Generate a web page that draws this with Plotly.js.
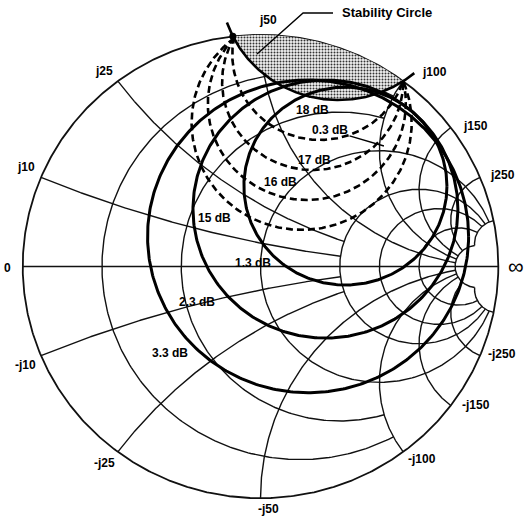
<!DOCTYPE html>
<html><head><meta charset="utf-8">
<script src="https://cdn.plot.ly/plotly-3.0.1.min.js"></script>
<style>html,body{margin:0;padding:0;background:#fff;}#chart{width:524px;height:524px;}</style>
</head><body><div id="chart"></div>
<script>
// ---------------- data ----------------
const resistanceValues = [0.2, 0.5, 1, 2, 3, 5, 10];
const reactanceValues  = [0.2, 0.5, 1, 2, 3, 5, 10];
const reactanceLabels  = ['j10', 'j25', 'j50', 'j100', 'j150', 'j250'];
const negReactanceLabels = ['-j10', '-j25', '-j50', '-j100', '-j150', '-j250'];
const axisEndLabels = ['0', '\u221E'];

const noiseNames   = ['1.3 dB', '2.3 dB', '3.3 dB'];
const noiseCenterX = [0.357, 0.273, 0.2];
const noiseCenterY = [0.347, 0.248, 0.13];
const noiseRadius  = [0.427, 0.557, 0.675];

const minNoiseName = '0.3 dB';
const minNoiseX = [0.519];
const minNoiseY = [0.52];

const gainNames   = ['15 dB', '16 dB', '17 dB', '18 dB'];
const gainCenterX = [0.173, 0.1949, 0.2193, 0.2498];
const gainCenterY = [0.621, 0.7035, 0.7973, 0.9147];
const gainRadius  = [0.4628, 0.4165, 0.3808, 0.3685];

const stabilityName = 'Stability Circle';
const stabilityCenterX = [0.3277];
const stabilityCenterY = [1.2147];
const stabilityRadius  = [0.4962];

// ---------------- grid layout config (truncation of arcs) ----------------
const rLimit = {0.2: 2, 0.5: 2, 1: 10, 2: 10, 3: 10, 5: 10, 10: 10};   // max |x| drawn on each resistance circle
const xLimit = {0.2: 2, 0.5: 2, 1: 10, 2: 10, 3: 10, 5: 10, 10: 10};   // max r drawn on each reactance arc

// ---------------- helpers ----------------
function gamma(r, x) {
  const den = (r + 1) * (r + 1) + x * x;
  return [(r * r - 1 + x * x) / den, 2 * x / den];
}
function norm(a) { while (a < 0) a += 2 * Math.PI; while (a >= 2 * Math.PI) a -= 2 * Math.PI; return a; }
function arc(cx, cy, R, a1, a2, n) {
  const xs = [], ys = [];
  n = n || 300;
  for (let i = 0; i <= n; i++) {
    const a = a1 + (a2 - a1) * i / n;
    xs.push(cx + R * Math.cos(a)); ys.push(cy + R * Math.sin(a));
  }
  return [xs, ys];
}
function resistanceArc(r, X) {
  const c = r / (1 + r), R = 1 / (1 + r);
  let phi = 0;
  if (isFinite(X)) { const g = gamma(r, X); phi = Math.atan2(g[1], g[0] - c); }
  return arc(c, 0, R, phi, 2 * Math.PI - phi);
}
function reactanceArc(x, Rmax) {
  const ax = Math.abs(x), cy = 1 / ax, R = 1 / ax;
  const g0 = gamma(0, ax);
  const a1 = norm(Math.atan2(g0[1] - cy, g0[0] - 1));
  let a2 = 1.5 * Math.PI;
  if (isFinite(Rmax)) { const g = gamma(Rmax, ax); a2 = norm(Math.atan2(g[1] - cy, g[0] - 1)); }
  const p = arc(1, cy, R, a1, a2);
  if (x < 0) p[1] = p[1].map(v => -v);
  return p;
}
function unitIntersections(cx, cy, R) {
  const d = Math.hypot(cx, cy);
  const l = (1 - R * R + d * d) / (2 * d);
  const h = Math.sqrt(Math.max(0, 1 - l * l));
  const bx = l / d * cx, by = l / d * cy;
  const px = -cy / d * h, py = cx / d * h;
  const A = [bx + px, by + py], B = [bx - px, by - py];
  return A[0] < B[0] ? [A, B] : [B, A];
}

const traces = [];
const gridLine = {color: '#111', width: 1.4};

// outer circle (r = 0)
let oc = arc(0, 0, 1, 0, 2 * Math.PI, 720);
traces.push({x: oc[0], y: oc[1], mode: 'lines', line: {color: '#111', width: 1.8}, hoverinfo: 'skip'});
// real axis
const ax0 = gamma(0, 0), axInf = [1, 0];
traces.push({x: [ax0[0], axInf[0]], y: [ax0[1], axInf[1]], mode: 'lines', line: gridLine, hoverinfo: 'skip'});

resistanceValues.forEach(r => {
  const X = rLimit[r] !== undefined ? rLimit[r] : Infinity;
  const p = resistanceArc(r, X);
  traces.push({x: p[0], y: p[1], mode: 'lines', line: gridLine, hoverinfo: 'skip'});
});
reactanceValues.forEach(x => {
  const Rm = xLimit[x] !== undefined ? xLimit[x] : Infinity;
  [x, -x].forEach(xx => {
    const p = reactanceArc(xx, Rm);
    traces.push({x: p[0], y: p[1], mode: 'lines', line: gridLine, hoverinfo: 'skip'});
  });
});

// stability region (inside unit circle and inside stability circle)
const sc = [stabilityCenterX[0], stabilityCenterY[0]], sR = stabilityRadius[0];
const [P1, P2] = unitIntersections(sc[0], sc[1], sR);
{
  const t1 = Math.atan2(P2[1], P2[0]), t2 = Math.atan2(P1[1], P1[0]);
  const u = arc(0, 0, 1, t1, t2, 120);
  const s1 = Math.atan2(P1[1] - sc[1], P1[0] - sc[0]);
  let s2 = Math.atan2(P2[1] - sc[1], P2[0] - sc[0]);
  if (s2 < s1) s2 += 2 * Math.PI;
  const s = arc(sc[0], sc[1], sR, s1, s2, 200);
  traces.push({x: u[0].concat(s[0]), y: u[1].concat(s[1]), mode: 'lines', fill: 'toself',
    line: {width: 0}, fillcolor: 'rgba(0,0,0,0)',
    fillpattern: {shape: '.', fgcolor: '#333', bgcolor: '#f2f2f2', size: 3, solidity: 0.35},
    hoverinfo: 'skip'});
  const ext = 0.13;
  const sl = arc(sc[0], sc[1], sR, s1 - ext, s2 + ext * 0.9, 300);
  traces.push({x: sl[0], y: sl[1], mode: 'lines', name: stabilityName, line: {color: '#000', width: 2.6}, hoverinfo: 'skip'});
}

// gain circles (dashed), arcs between the two stability crossing points
gainNames.forEach((nm, i) => {
  const cx = gainCenterX[i], cy = gainCenterY[i], R = gainRadius[i];
  const a1 = Math.atan2(P1[1] - cy, P1[0] - cx);
  let a2 = Math.atan2(P2[1] - cy, P2[0] - cx);
  if (a2 < a1) a2 += 2 * Math.PI;
  const p = arc(cx, cy, R, a1, a2, 300);
  traces.push({x: p[0], y: p[1], mode: 'lines', name: nm, line: {color: '#000', width: 2.6, dash: '7px,4px'}, hoverinfo: 'skip'});
});

// noise circles (thick solid)
noiseNames.forEach((nm, i) => {
  const p = arc(noiseCenterX[i], noiseCenterY[i], noiseRadius[i], 0, 2 * Math.PI, 400);
  traces.push({x: p[0], y: p[1], mode: 'lines', name: nm, line: {color: '#000', width: 3}, hoverinfo: 'skip'});
});

// convergence dot
traces.push({x: [P1[0]], y: [P1[1]], mode: 'markers', marker: {color: '#000', size: 7}, hoverinfo: 'skip'});

// ---------------- annotations ----------------
const F = {family: 'Liberation Sans, Arial, sans-serif', size: 12, color: '#000', weight: 'bold'};
function lab(text, x, y, extra) {
  return Object.assign({text: text, x: x, y: y, xref: 'x', yref: 'y', showarrow: false, font: F}, extra || {});
}
const posPos = [[-0.986, 0.429], [-0.658, 0.844], [0.0315, 1.064], [0.73, 0.839], [0.906, 0.606], [1.016, 0.395]];
const posNeg = [[-0.99, -0.425], [-0.654, -0.848], [0.0315, -1.047], [0.679, -0.831], [0.906, -0.598], [1.016, -0.378]];
const annotations = [];
reactanceLabels.forEach((t, i) => annotations.push(lab(t, posPos[i][0], posPos[i][1])));
negReactanceLabels.forEach((t, i) => annotations.push(lab(t, posNeg[i][0], posNeg[i][1])));
annotations.push(lab(axisEndLabels[0], -1.062, -0.006));
annotations.push(lab(axisEndLabels[1], 1.075, 0.0, {font: Object.assign({}, F, {size: 22, weight: 'normal'})}));

const curveLabelPos = {'15 dB': [-0.1955, 0.2093], '16 dB': [0.082, 0.3647], '17 dB': [0.225, 0.4597], '18 dB': [0.2166, 0.6754],
  '1.3 dB': [-0.0315, 0.0151], '2.3 dB': [-0.267, -0.153], '3.3 dB': [-0.3806, -0.3733]};
gainNames.concat(noiseNames).forEach(t => annotations.push(lab(t, curveLabelPos[t][0], curveLabelPos[t][1])));
annotations.push(lab(stabilityName, 0.532, 1.098, {font: Object.assign({}, F, {size: 13})}));
annotations.push({text: minNoiseName, x: minNoiseX[0], y: minNoiseY[0], xref: 'x', yref: 'y', axref: 'x', ayref: 'y',
  ax: 0.2923, ay: 0.589, showarrow: true, arrowhead: 0, arrowwidth: 1.4, arrowcolor: '#000', font: F, standoff: 0});

const shapes = [{type: 'path', xref: 'x', yref: 'y', path: 'M 0.305 1.094 L 0.179 1.094 L -0.0147 0.917', line: {color: '#000', width: 1.4}}];

const layout = {
  width: 524, height: 524, margin: {l: 0, r: 0, t: 0, b: 0},
  paper_bgcolor: '#fff', plot_bgcolor: '#fff', showlegend: false,
  xaxis: {range: [-1.0955, 1.108], visible: false, fixedrange: true},
  yaxis: {range: [-1.1113, 1.1502], visible: false, fixedrange: true},
  annotations: annotations, shapes: shapes
};
Plotly.newPlot('chart', traces, layout, {staticPlot: true, displayModeBar: false});
</script>
</body></html>
